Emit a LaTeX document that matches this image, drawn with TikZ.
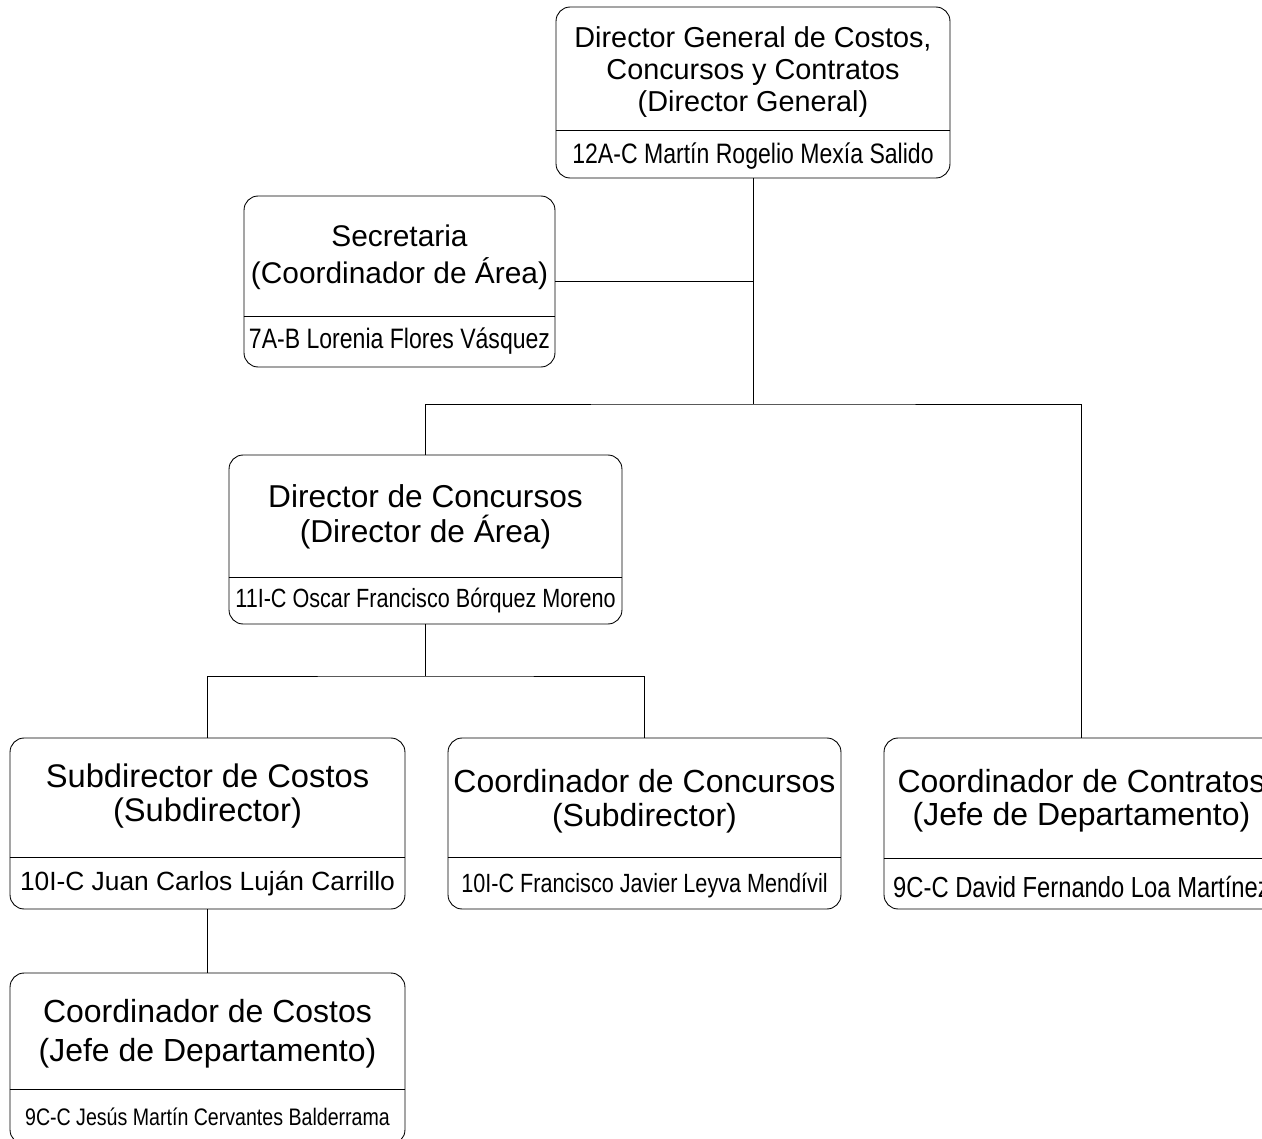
\documentclass[tikz,border=0pt]{standalone}
\usepackage{fontspec}
\setmainfont{Liberation Sans}
\newfontfamily\angosta[FakeStretch=0.82]{Liberation Sans}
\usetikzlibrary{positioning}

\begin{document}
\begin{tikzpicture}[x=0.02cm, y=-0.02cm, line width=0.5pt,
    caja/.style={draw, rounded corners=8pt, minimum width=7.9cm, minimum height=3.42cm, inner sep=0pt},
    cargo/.style={align=center, inner sep=0pt, font=\fontsize{18}{19.8}\selectfont},
    nombre/.style={inner sep=0pt, font=\angosta\fontsize{15}{17}\selectfont}]

    \useasboundingbox (0,0) rectangle (1262,1139);
    \clip (0,0) rectangle (1262,1139);

    % Director General
    \node[caja, minimum width=7.88cm] (dg) at (753,92.5) {};
    \draw (dg.west |- 0,130) -- (dg.east |- 0,130);
    \node[cargo, font=\fontsize{16.4}{18}\selectfont] (dgc) at (753,72) {Director General de Costos,\\Concursos y Contratos\\(Director General)};
    \node[nombre, font=\angosta\fontsize{16}{18}\selectfont] (dgn) at (753,156) {12A-C Martín Rogelio Mexía Salido};

    % Secretaria
    \node[caja, minimum width=6.22cm] (sec) at (399.5,281.5) {};
    \draw (sec.west |- 0,316) -- (sec.east |- 0,316);
    \node[cargo, font=\fontsize{17}{21}\selectfont] (secc) at (399.5,257) {Secretaria\\(Coordinador de Área)};
    \node[nombre, font=\angosta\fontsize{16}{18}\selectfont] (secn) at (399.5,341) {7A-B Lorenia Flores Vásquez};

    % Director de Concursos
    \node[caja, minimum width=7.86cm, minimum height=3.38cm] (dc) at (425.5,539.5) {};
    \draw (dc.west |- 0,577) -- (dc.east |- 0,577);
    \node[cargo, font=\fontsize{18}{19.8}\selectfont] (dcc) at (425.5,517) {Director de Concursos\\(Director de Área)};
    \node[nombre] (dcn) at (425.5,601) {11I-C Oscar Francisco Bórquez Moreno};

    % Subdirector de Costos
    \node[caja] (sd) at (207.5,823.5) {};
    \draw (sd.west |- 0,857) -- (sd.east |- 0,857);
    \node[cargo, font=\fontsize{18.6}{19.8}\selectfont] (sdc) at (207.5,796) {Subdirector de Costos\\(Subdirector)};
    \node[nombre, font=\fontsize{15}{17}\selectfont] (sdn) at (207.5,884) {10I-C Juan Carlos Luján Carrillo};

    % Coordinador de Concursos
    \node[caja, minimum width=7.86cm] (cco) at (644.5,823.5) {};
    \draw (cco.west |- 0,857) -- (cco.east |- 0,857);
    \node[cargo, font=\fontsize{18.2}{19.3}\selectfont] (ccoc) at (644.5,801) {Coordinador de Concursos\\(Subdirector)};
    \node[nombre] (ccon) at (644.5,886) {10I-C Francisco Javier Leyva Mendívil};

    % Coordinador de Contratos
    \node[caja] (ct) at (1081.5,823.5) {};
    \draw (ct.west |- 0,858) -- (ct.east |- 0,858);
    \node[cargo, font=\fontsize{18.2}{18.7}\selectfont] (ctc) at (1081.5,801) {Coordinador de Contratos\\(Jefe de Departamento)};
    \node[nombre, font=\angosta\fontsize{16.5}{18}\selectfont] (ctn) at (1081.5,887) {9C-C David Fernando Loa Martínez};

    % Coordinador de Costos
    \node[caja] (cc) at (207.5,1058.5) {};
    \draw (cc.west |- 0,1089) -- (cc.east |- 0,1089);
    \node[cargo, font=\fontsize{18.2}{22}\selectfont] (ccc) at (207.5,1034) {Coordinador de Costos\\(Jefe de Departamento)};
    \node[nombre, font=\angosta\fontsize{13.6}{16}\selectfont] (ccn) at (207.5,1117) {9C-C Jesús Martín Cervantes Balderrama};

    % Lineas de mando
    \coordinate (j1) at (753,404);
    \coordinate (j2) at (425.5,676);
    \draw (dg.south) -- (j1);
    \draw (sec.east) -- (sec.east -| dg.south);
    \draw (dc.north) |- (j1) -| (ct.north);
    \draw (dc.south) -- (j2);
    \draw (sd.north) |- (j2) -| (cco.north);
    \draw (sd.south) -- (cc.north);
\end{tikzpicture}
\end{document}
